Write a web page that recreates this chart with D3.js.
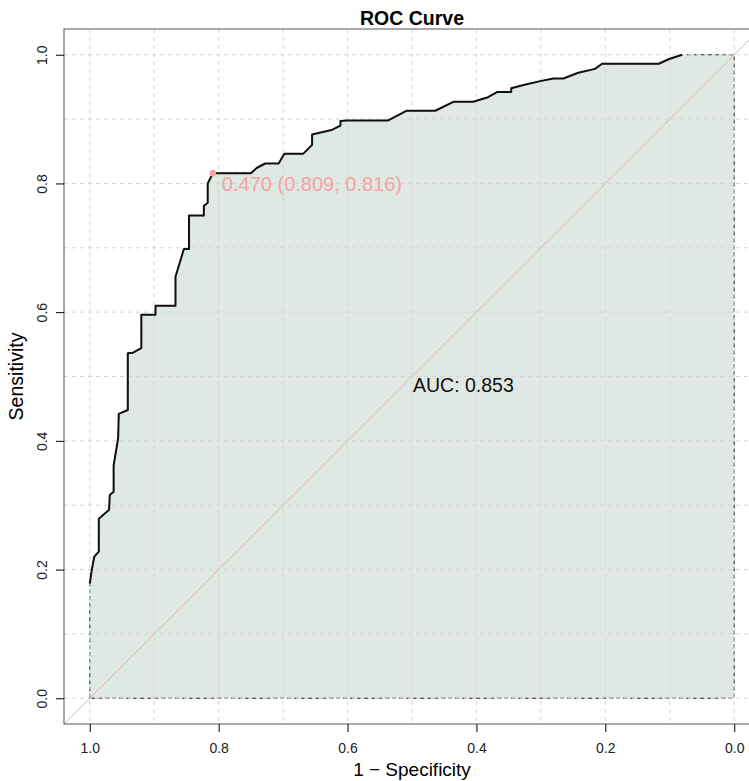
<!DOCTYPE html>
<html>
<head>
<meta charset="utf-8">
<script src="https://cdn.jsdelivr.net/npm/d3@7"></script>
<style>
  body { margin: 0; background: #fff; }
  svg text { font-family: "Liberation Sans", Arial, sans-serif; }
</style>
</head>
<body>
<div id="chart"></div>
<script>
  // ROC curve points (specificity, sensitivity)
  var specificity = [1.000, 0.997, 0.993, 0.986, 0.986, 0.970, 0.969, 0.963, 0.963, 0.956, 0.955,
    0.941, 0.941, 0.933, 0.920, 0.920, 0.898, 0.898, 0.867, 0.867, 0.854, 0.846, 0.846, 0.823,
    0.823, 0.817, 0.817, 0.809, 0.801, 0.750, 0.741, 0.728, 0.707, 0.698, 0.669, 0.655, 0.655,
    0.625, 0.611, 0.611, 0.601, 0.537, 0.508, 0.464, 0.435, 0.405, 0.382, 0.368, 0.346, 0.346,
    0.327, 0.301, 0.281, 0.265, 0.242, 0.216, 0.205, 0.117, 0.102, 0.081];
  var sensitivity = [0.178, 0.199, 0.220, 0.228, 0.279, 0.293, 0.316, 0.321, 0.362, 0.404, 0.442,
    0.448, 0.536, 0.537, 0.544, 0.596, 0.596, 0.610, 0.610, 0.655, 0.698, 0.698, 0.750, 0.750,
    0.765, 0.770, 0.800, 0.816, 0.816, 0.816, 0.824, 0.831, 0.831, 0.846, 0.846, 0.860, 0.876,
    0.883, 0.890, 0.897, 0.898, 0.898, 0.913, 0.913, 0.927, 0.927, 0.934, 0.942, 0.942, 0.948,
    0.953, 0.959, 0.963, 0.963, 0.972, 0.978, 0.986, 0.986, 0.993, 1.000];

  var bestThreshold = 0.470;
  var bestSpec = 0.809;
  var bestSens = 0.816;
  var aucValue = 0.853;

  var axisTicks = [0, 0.2, 0.4, 0.6, 0.8, 1.0];
  var gridTicks = [0, 0.1, 0.2, 0.3, 0.4, 0.5, 0.6, 0.7, 0.8, 0.9, 1.0];

  var W = 749, H = 781;
  var plot = { left: 64, top: 29, right: 760, bottom: 724 };

  var svg = d3.select('#chart')
    .append('svg')
    .attr('width', W)
    .attr('height', H);

  var x = d3.scaleLinear().domain([1.04, -0.04]).range([plot.left, plot.right]);
  var y = d3.scaleLinear().domain([-0.04, 1.04]).range([plot.bottom, plot.top]);

  svg.append('clipPath').attr('id', 'clip')
    .append('rect')
    .attr('x', plot.left).attr('y', plot.top)
    .attr('width', plot.right - plot.left).attr('height', plot.bottom - plot.top);

  var g = svg.append('g').attr('clip-path', 'url(#clip)');

  var pts = specificity.map(function(s, i) { return [s, sensitivity[i]]; });

  // AUC polygon
  var poly = [[1, 0]].concat(pts).concat([[0, 1], [0, 0]]);
  g.append('path')
    .attr('d', d3.line().x(function(d) { return x(d[0]); }).y(function(d) { return y(d[1]); })(poly) + 'Z')
    .attr('fill', '#dfe8e2')
    .attr('stroke', '#222')
    .attr('stroke-width', 1)
    .attr('stroke-dasharray', '4,3');

  // grid
  g.selectAll('.vgrid')
    .data(gridTicks)
    .enter().append('line')
    .attr('class', 'vgrid')
    .attr('x1', function(d) { return x(d); }).attr('x2', function(d) { return x(d); })
    .attr('y1', plot.top).attr('y2', plot.bottom)
    .attr('stroke', '#d4d4d4').attr('stroke-dasharray', '4,4');

  g.selectAll('.hgrid')
    .data(gridTicks)
    .enter().append('line')
    .attr('class', 'hgrid')
    .attr('y1', function(d) { return y(d); }).attr('y2', function(d) { return y(d); })
    .attr('x1', plot.left).attr('x2', plot.right)
    .attr('stroke', '#d4d4d4').attr('stroke-dasharray', '4,4');

  // diagonal reference lines: grey outside [0,1], pink inside
  g.append('line')
    .attr('x1', x(1.04)).attr('y1', y(-0.04))
    .attr('x2', x(1)).attr('y2', y(0))
    .attr('stroke', '#c4c4c4').attr('stroke-width', 1);
  g.append('line')
    .attr('x1', x(0)).attr('y1', y(1))
    .attr('x2', x(-0.04)).attr('y2', y(1.04))
    .attr('stroke', '#c4c4c4').attr('stroke-width', 1);

  g.append('line')
    .attr('x1', x(1)).attr('y1', y(0))
    .attr('x2', x(0)).attr('y2', y(1))
    .attr('stroke', '#eaaeae').attr('stroke-width', 1);

  // ROC curve
  g.append('path')
    .datum(pts)
    .attr('d', d3.line().x(function(d) { return x(d[0]); }).y(function(d) { return y(d[1]); }))
    .attr('fill', 'none')
    .attr('stroke', '#111')
    .attr('stroke-width', 2)
    .attr('stroke-linejoin', 'round');

  // best threshold
  g.append('circle')
    .attr('cx', x(bestSpec)).attr('cy', y(bestSens))
    .attr('r', 3.3)
    .attr('fill', '#f4a3a3');

  svg.append('text')
    .attr('x', x(bestSpec) + 9)
    .attr('y', y(bestSens) + 18)
    .attr('fill', '#f4a3a3')
    .style('font-size', '20px')
    .text(bestThreshold.toFixed(3) + ' (' + bestSpec.toFixed(3) + ', ' + bestSens.toFixed(3) + ')');

  svg.append('text')
    .attr('x', x(0.5) + 1)
    .attr('y', y(0.5) + 15.5)
    .attr('fill', '#111')
    .style('font-size', '19.5px')
    .text('AUC: ' + aucValue.toFixed(3));

  // box
  svg.append('rect')
    .attr('x', plot.left).attr('y', plot.top)
    .attr('width', plot.right - plot.left).attr('height', plot.bottom - plot.top)
    .attr('fill', 'none').attr('stroke', '#555').attr('stroke-width', 1);

  // axes
  var xAxis = svg.append('g')
    .attr('transform', 'translate(0,' + plot.bottom + ')')
    .call(d3.axisBottom(x).tickValues(axisTicks).tickFormat(d3.format('.1f')).tickSize(8).tickPadding(11));
  xAxis.select('.domain').remove();
  xAxis.selectAll('text').style('font-size', '14px').attr('fill', '#222');

  var yAxis = svg.append('g')
    .attr('transform', 'translate(' + plot.left + ',0)')
    .call(d3.axisLeft(y).tickValues(axisTicks).tickFormat(d3.format('.1f')).tickSize(8));
  yAxis.select('.domain').remove();
  yAxis.selectAll('text')
    .attr('transform', 'rotate(-90)')
    .attr('x', 0).attr('y', -17).attr('dy', 0)
    .style('text-anchor', 'middle')
    .style('font-size', '14px').attr('fill', '#222');

  // titles
  svg.append('text')
    .attr('x', (plot.left + plot.right) / 2).attr('y', 25)
    .attr('text-anchor', 'middle')
    .style('font-size', '19.5px').style('font-weight', 'bold')
    .text('ROC Curve');

  svg.append('text')
    .attr('x', (plot.left + plot.right) / 2).attr('y', 776)
    .attr('text-anchor', 'middle')
    .style('font-size', '19px')
    .text('1 \u2212 Specificity');

  svg.append('text')
    .attr('transform', 'translate(23,' + (plot.top + plot.bottom) / 2 + ') rotate(-90)')
    .attr('text-anchor', 'middle')
    .style('font-size', '19.5px')
    .text('Sensitivity');
</script>
</body>
</html>
